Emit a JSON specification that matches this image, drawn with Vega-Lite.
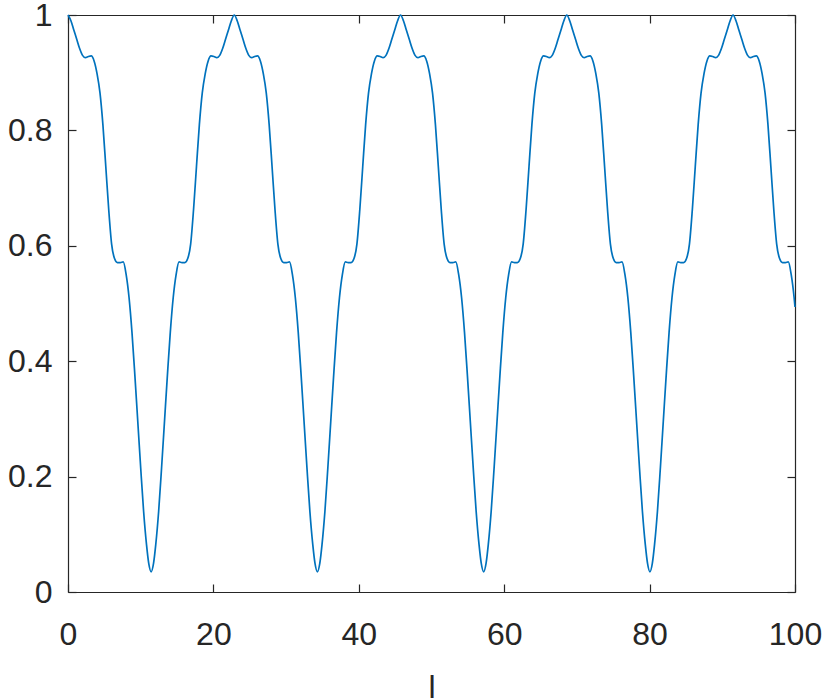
{
  "$schema": "https://vega.github.io/schema/vega-lite/v6.json",
  "width": 727,
  "height": 577,
  "autosize": "none",
  "padding": {"left": 68, "top": 15, "right": 35, "bottom": 108},
  "background": "white",
  "config": {
    "view": {"stroke": null},
    "font": "Liberation Sans",
    "axis": {
      "domainColor": "#262626",
      "domainWidth": 1.2,
      "tickColor": "#262626",
      "tickWidth": 1.2,
      "tickSize": -8,
      "labelColor": "#262626",
      "labelFont": "Liberation Sans",
      "labelFontSize": 32,
      "titleFont": "Liberation Sans",
      "titleFontSize": 32,
      "titleFontWeight": "normal",
      "titleColor": "#262626",
      "grid": false
    }
  },
  "data": {"values": [
    {"l":0,"v":1},{"l":0.4,"v":0.99},{"l":0.8,"v":0.974},{"l":1.2,"v":0.958},{"l":1.6,"v":0.942},{"l":2.0,"v":0.93},{"l":2.4,"v":0.926},{"l":2.8,"v":0.928},{"l":3.2,"v":0.929},{"l":3.6,"v":0.92},{"l":4.0,"v":0.898},{"l":4.4,"v":0.865},{"l":4.8,"v":0.81},{"l":5.2,"v":0.737},{"l":5.6,"v":0.663},{"l":6.0,"v":0.603},{"l":6.4,"v":0.578},{"l":6.8,"v":0.571},{"l":7.2,"v":0.571},{"l":7.6,"v":0.572},{"l":8.0,"v":0.55},{"l":8.4,"v":0.51},{"l":8.8,"v":0.45},{"l":9.2,"v":0.375},{"l":9.6,"v":0.295},{"l":10.0,"v":0.215},{"l":10.4,"v":0.14},{"l":10.8,"v":0.082},{"l":11.1,"v":0.05},{"l":11.435,"v":0.035},
    {"l":11.77,"v":0.05},{"l":12.07,"v":0.082},{"l":12.47,"v":0.14},{"l":12.87,"v":0.215},{"l":13.27,"v":0.295},{"l":13.67,"v":0.375},{"l":14.07,"v":0.45},{"l":14.47,"v":0.51},{"l":14.87,"v":0.55},{"l":15.27,"v":0.572},{"l":15.67,"v":0.571},{"l":16.07,"v":0.571},{"l":16.47,"v":0.578},{"l":16.87,"v":0.603},{"l":17.27,"v":0.663},{"l":17.67,"v":0.737},{"l":18.07,"v":0.81},{"l":18.47,"v":0.865},{"l":18.87,"v":0.898},{"l":19.27,"v":0.92},{"l":19.67,"v":0.929},{"l":20.07,"v":0.928},{"l":20.47,"v":0.926},{"l":20.87,"v":0.93},{"l":21.27,"v":0.942},{"l":21.67,"v":0.958},{"l":22.07,"v":0.974},{"l":22.47,"v":0.99},{"l":22.87,"v":1},
    {"l":23.27,"v":0.99},{"l":23.67,"v":0.974},{"l":24.07,"v":0.958},{"l":24.47,"v":0.942},{"l":24.87,"v":0.93},{"l":25.27,"v":0.926},{"l":25.67,"v":0.928},{"l":26.07,"v":0.929},{"l":26.47,"v":0.92},{"l":26.87,"v":0.898},{"l":27.27,"v":0.865},{"l":27.67,"v":0.81},{"l":28.07,"v":0.737},{"l":28.47,"v":0.663},{"l":28.87,"v":0.603},{"l":29.27,"v":0.578},{"l":29.67,"v":0.571},{"l":30.07,"v":0.571},{"l":30.47,"v":0.572},{"l":30.87,"v":0.55},{"l":31.27,"v":0.51},{"l":31.67,"v":0.45},{"l":32.07,"v":0.375},{"l":32.47,"v":0.295},{"l":32.87,"v":0.215},{"l":33.27,"v":0.14},{"l":33.67,"v":0.082},{"l":33.97,"v":0.05},{"l":34.305,"v":0.035},
    {"l":34.64,"v":0.05},{"l":34.94,"v":0.082},{"l":35.34,"v":0.14},{"l":35.74,"v":0.215},{"l":36.14,"v":0.295},{"l":36.54,"v":0.375},{"l":36.94,"v":0.45},{"l":37.34,"v":0.51},{"l":37.74,"v":0.55},{"l":38.14,"v":0.572},{"l":38.54,"v":0.571},{"l":38.94,"v":0.571},{"l":39.34,"v":0.578},{"l":39.74,"v":0.603},{"l":40.14,"v":0.663},{"l":40.54,"v":0.737},{"l":40.94,"v":0.81},{"l":41.34,"v":0.865},{"l":41.74,"v":0.898},{"l":42.14,"v":0.92},{"l":42.54,"v":0.929},{"l":42.94,"v":0.928},{"l":43.34,"v":0.926},{"l":43.74,"v":0.93},{"l":44.14,"v":0.942},{"l":44.54,"v":0.958},{"l":44.94,"v":0.974},{"l":45.34,"v":0.99},{"l":45.74,"v":1},
    {"l":46.14,"v":0.99},{"l":46.54,"v":0.974},{"l":46.94,"v":0.958},{"l":47.34,"v":0.942},{"l":47.74,"v":0.93},{"l":48.14,"v":0.926},{"l":48.54,"v":0.928},{"l":48.94,"v":0.929},{"l":49.34,"v":0.92},{"l":49.74,"v":0.898},{"l":50.14,"v":0.865},{"l":50.54,"v":0.81},{"l":50.94,"v":0.737},{"l":51.34,"v":0.663},{"l":51.74,"v":0.603},{"l":52.14,"v":0.578},{"l":52.54,"v":0.571},{"l":52.94,"v":0.571},{"l":53.34,"v":0.572},{"l":53.74,"v":0.55},{"l":54.14,"v":0.51},{"l":54.54,"v":0.45},{"l":54.94,"v":0.375},{"l":55.34,"v":0.295},{"l":55.74,"v":0.215},{"l":56.14,"v":0.14},{"l":56.54,"v":0.082},{"l":56.84,"v":0.05},{"l":57.175,"v":0.035},
    {"l":57.51,"v":0.05},{"l":57.81,"v":0.082},{"l":58.21,"v":0.14},{"l":58.61,"v":0.215},{"l":59.01,"v":0.295},{"l":59.41,"v":0.375},{"l":59.81,"v":0.45},{"l":60.21,"v":0.51},{"l":60.61,"v":0.55},{"l":61.01,"v":0.572},{"l":61.41,"v":0.571},{"l":61.81,"v":0.571},{"l":62.21,"v":0.578},{"l":62.61,"v":0.603},{"l":63.01,"v":0.663},{"l":63.41,"v":0.737},{"l":63.81,"v":0.81},{"l":64.21,"v":0.865},{"l":64.61,"v":0.898},{"l":65.01,"v":0.92},{"l":65.41,"v":0.929},{"l":65.81,"v":0.928},{"l":66.21,"v":0.926},{"l":66.61,"v":0.93},{"l":67.01,"v":0.942},{"l":67.41,"v":0.958},{"l":67.81,"v":0.974},{"l":68.21,"v":0.99},{"l":68.61,"v":1},
    {"l":69.01,"v":0.99},{"l":69.41,"v":0.974},{"l":69.81,"v":0.958},{"l":70.21,"v":0.942},{"l":70.61,"v":0.93},{"l":71.01,"v":0.926},{"l":71.41,"v":0.928},{"l":71.81,"v":0.929},{"l":72.21,"v":0.92},{"l":72.61,"v":0.898},{"l":73.01,"v":0.865},{"l":73.41,"v":0.81},{"l":73.81,"v":0.737},{"l":74.21,"v":0.663},{"l":74.61,"v":0.603},{"l":75.01,"v":0.578},{"l":75.41,"v":0.571},{"l":75.81,"v":0.571},{"l":76.21,"v":0.572},{"l":76.61,"v":0.55},{"l":77.01,"v":0.51},{"l":77.41,"v":0.45},{"l":77.81,"v":0.375},{"l":78.21,"v":0.295},{"l":78.61,"v":0.215},{"l":79.01,"v":0.14},{"l":79.41,"v":0.082},{"l":79.71,"v":0.05},{"l":80.045,"v":0.035},
    {"l":80.38,"v":0.05},{"l":80.68,"v":0.082},{"l":81.08,"v":0.14},{"l":81.48,"v":0.215},{"l":81.88,"v":0.295},{"l":82.28,"v":0.375},{"l":82.68,"v":0.45},{"l":83.08,"v":0.51},{"l":83.48,"v":0.55},{"l":83.88,"v":0.572},{"l":84.28,"v":0.571},{"l":84.68,"v":0.571},{"l":85.08,"v":0.578},{"l":85.48,"v":0.603},{"l":85.88,"v":0.663},{"l":86.28,"v":0.737},{"l":86.68,"v":0.81},{"l":87.08,"v":0.865},{"l":87.48,"v":0.898},{"l":87.88,"v":0.92},{"l":88.28,"v":0.929},{"l":88.68,"v":0.928},{"l":89.08,"v":0.926},{"l":89.48,"v":0.93},{"l":89.88,"v":0.942},{"l":90.28,"v":0.958},{"l":90.68,"v":0.974},{"l":91.08,"v":0.99},{"l":91.48,"v":1},
    {"l":91.88,"v":0.99},{"l":92.28,"v":0.974},{"l":92.68,"v":0.958},{"l":93.08,"v":0.942},{"l":93.48,"v":0.93},{"l":93.88,"v":0.926},{"l":94.28,"v":0.928},{"l":94.68,"v":0.929},{"l":95.08,"v":0.92},{"l":95.48,"v":0.898},{"l":95.88,"v":0.865},{"l":96.28,"v":0.81},{"l":96.68,"v":0.737},{"l":97.08,"v":0.663},{"l":97.48,"v":0.603},{"l":97.88,"v":0.578},{"l":98.28,"v":0.571},{"l":98.68,"v":0.571},{"l":99.08,"v":0.572},{"l":99.48,"v":0.55},{"l":99.88,"v":0.51},{"l":100,"v":0.494}
  ]},
  "layer": [
    {
      "mark": {"type": "line", "color": "#0072BD", "strokeWidth": 1.7, "interpolate": "monotone"},
      "encoding": {
        "x": {"field": "l", "type": "quantitative", "title": "l",
              "scale": {"domain": [0, 100], "nice": false, "zero": false},
              "axis": {"orient": "bottom", "values": [0, 20, 40, 60, 80, 100], "labelPadding": 35, "titlePadding": 22, "labelFlush": false}},
        "y": {"field": "v", "type": "quantitative", "title": null,
              "scale": {"domain": [0, 1], "nice": false, "zero": false},
              "axis": {"orient": "left", "values": [0, 0.2, 0.4, 0.6, 0.8, 1], "format": "~g", "labelPadding": 24, "labelFlush": false}}
      }
    },
    {
      "mark": {"type": "line", "opacity": 0},
      "encoding": {
        "x": {"field": "l", "type": "quantitative",
              "scale": {"domain": [0, 100], "nice": false, "zero": false},
              "axis": {"orient": "top", "values": [0, 20, 40, 60, 80, 100], "labels": false, "title": null}},
        "y": {"field": "v", "type": "quantitative",
              "scale": {"domain": [0, 1], "nice": false, "zero": false},
              "axis": {"orient": "right", "values": [0, 0.2, 0.4, 0.6, 0.8, 1], "labels": false, "title": null}}
      }
    }
  ],
  "resolve": {"axis": {"x": "independent", "y": "independent"}}
}
